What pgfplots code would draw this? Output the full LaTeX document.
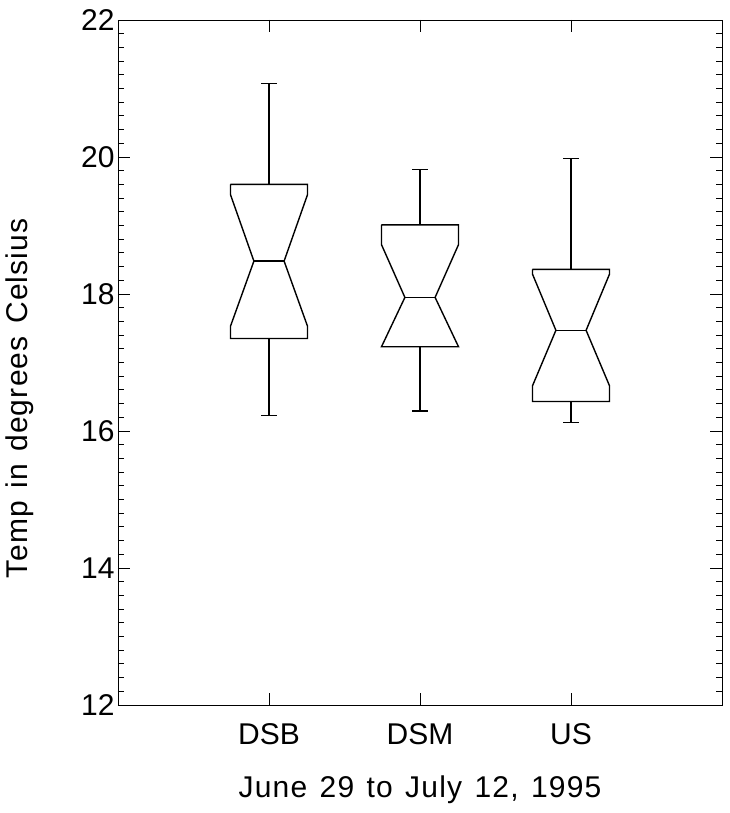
\documentclass[border=0pt]{standalone}
\usepackage{fontspec}
\setmainfont{Liberation Sans}
\newfontfamily\lblfont[LetterSpace=4,WordSpace=1.3]{Liberation Sans}
\usepackage{pgfplots}
\pgfplotsset{compat=1.18}
\begin{document}
\begin{tikzpicture}[font=\fontsize{30}{36}\selectfont]
\begin{axis}[
  scale only axis, width=604pt, height=685pt,
  xmin=0, xmax=4, ymin=12, ymax=22,
  xtick={1,2,3}, xticklabels={DSB,DSM,US},
  ytick={12,14,...,22}, minor y tick num=9,
  tick align=inside, major tick length=12pt, minor tick length=6pt,
  every tick/.style={black, line width=0.8pt},
  axis line style={line width=0.9pt},
  /pgf/number format/assume math mode=true,
  xlabel={\lblfont June 29 to July 12, 1995},
  ylabel={\lblfont Temp in degrees Celsius},
  xlabel style={at={(axis description cs:0.5,-0.124)}, anchor=center},
  ylabel style={at={(axis description cs:-0.162,0.448)}, anchor=center},
  xticklabel style={yshift=-15pt},
  bx/.style={black, line width=1.4pt, mark=none},
]
% DSB
\addplot[bx] coordinates {(0.745,19.60) (1.255,19.60) (1.255,19.45) (1.1,18.48) (1.255,17.53) (1.255,17.35) (0.745,17.35) (0.745,17.53) (0.9,18.48) (0.745,19.45) (0.745,19.60)};
\addplot[bx] coordinates {(0.9,18.48) (1.1,18.48)};
\addplot[bx] coordinates {(1,19.60) (1,21.07)};
\addplot[bx] coordinates {(0.95,21.07) (1.05,21.07)};
\addplot[bx] coordinates {(1,17.35) (1,16.23)};
\addplot[bx] coordinates {(0.95,16.23) (1.05,16.23)};
% DSM
\addplot[bx] coordinates {(1.745,19.01) (2.255,19.01) (2.255,18.72) (2.1,17.95) (2.255,17.23) (1.745,17.23) (1.9,17.95) (1.745,18.72) (1.745,19.01)};
\addplot[bx] coordinates {(1.9,17.95) (2.1,17.95)};
\addplot[bx] coordinates {(2,19.01) (2,19.82)};
\addplot[bx] coordinates {(1.95,19.82) (2.05,19.82)};
\addplot[bx] coordinates {(2,17.23) (2,16.29)};
\addplot[bx] coordinates {(1.95,16.29) (2.05,16.29)};
% US
\addplot[bx] coordinates {(2.745,18.36) (3.255,18.36) (3.255,18.29) (3.1,17.47) (3.255,16.66) (3.255,16.43) (2.745,16.43) (2.745,16.66) (2.9,17.47) (2.745,18.29) (2.745,18.36)};
\addplot[bx] coordinates {(2.9,17.47) (3.1,17.47)};
\addplot[bx] coordinates {(3,18.36) (3,19.98)};
\addplot[bx] coordinates {(2.95,19.98) (3.05,19.98)};
\addplot[bx] coordinates {(3,16.43) (3,16.12)};
\addplot[bx] coordinates {(2.95,16.12) (3.05,16.12)};
\end{axis}
\path ([shift={(-118pt,-108pt)}]current axis.south west) rectangle ([shift={(8pt,20pt)}]current axis.north east);
\end{tikzpicture}
\end{document}
